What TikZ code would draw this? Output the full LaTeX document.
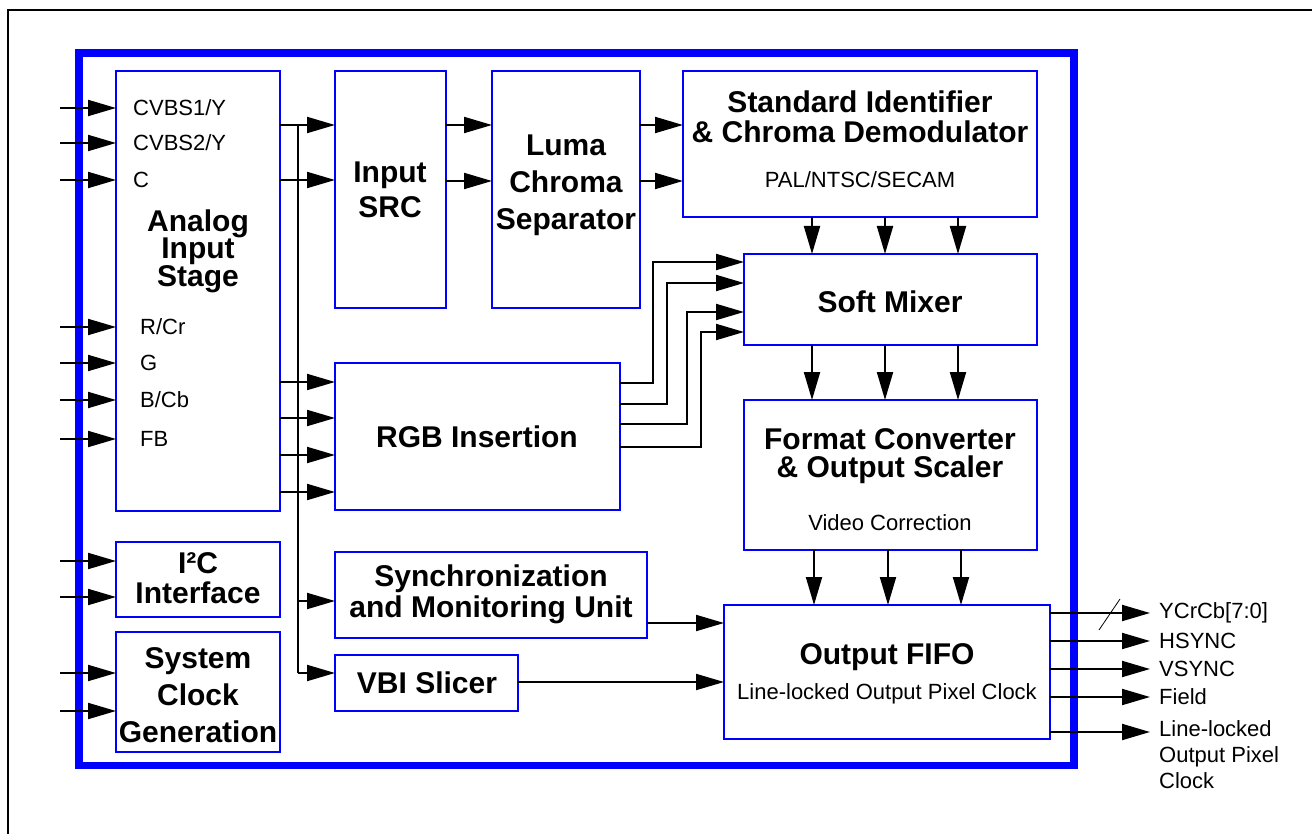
\documentclass[tikz,border=0pt]{standalone}
\usepackage{fontspec}
\setmainfont{Liberation Sans}
\usetikzlibrary{arrows.meta}

\begin{document}
\begin{tikzpicture}[x=1pt,y=-1pt,
    blk/.style={draw=blue, line width=2.3pt, anchor=north west, inner sep=0pt, outer sep=0pt},
    sig/.style={line width=2pt, -{Triangle[length=28pt,width=16pt]}},
    ttl/.style={font=\bfseries\fontsize{30}{#1}\selectfont, align=center, inner sep=0pt},
    ttl/.default=30,
    lbl/.style={font=\fontsize{22}{26}\selectfont, inner sep=0pt}]
        % Page
        \useasboundingbox (0,0) rectangle (1312,834);
        \clip (0,0) rectangle (1312,834);
        \draw[line width=2.5pt] (8,10) rectangle (1340,860);
        \draw[blue, line width=7.5pt] (79,53) rectangle (1074,765.5);

        % Blocks
        \node[blk, minimum width=164, minimum height=440] (analog) at (116,71) {};
        \node[blk, minimum width=111, minimum height=237] (src) at (335,71) {};
        \node[blk, minimum width=148, minimum height=237] (luma) at (492,71) {};
        \node[blk, minimum width=354, minimum height=146] (std) at (683,71) {};
        \node[blk, minimum width=293, minimum height=91] (soft) at (744,254) {};
        \node[blk, minimum width=285, minimum height=147] (rgb) at (335,363) {};
        \node[blk, minimum width=293, minimum height=150] (fmt) at (744,400) {};
        \node[blk, minimum width=164, minimum height=75] (iic) at (116,542) {};
        \node[blk, minimum width=312, minimum height=86] (sync) at (335,552) {};
        \node[blk, minimum width=326, minimum height=134] (fifo) at (724,605) {};
        \node[blk, minimum width=183, minimum height=56] (vbi) at (335,655) {};
        \node[blk, minimum width=164, minimum height=120] (clk) at (116,632) {};

        % Labels
        \node[ttl=27] (analogT) at (198,251) {Analog\\Input\\Stage};
        \node[ttl=35] (srcT) at (390,190) {Input\\SRC};
        \node[ttl=37] (lumaT) at (566,185) {Luma\\Chroma\\Separator};
        \node[ttl] (stdT) at (860,117) {Standard Identifier\\\& Chroma Demodulator};
        \node[lbl] (stdS) at (860,180) {PAL/NTSC/SECAM};
        \node[ttl] (softT) at (890,302) {Soft Mixer};
        \node[ttl] (rgbT) at (477,437) {RGB Insertion};
        \node[ttl=28] (fmtT) at (890,456) {Format Converter\\\& Output Scaler};
        \node[lbl] (fmtS) at (890,523) {Video Correction};
        \node[ttl=30] (iicT) at (198,578) {I²C\\Interface};
        \node[ttl=31] (syncT) at (491,594) {Synchronization\\and Monitoring Unit};
        \node[ttl] (vbiT) at (427,683) {VBI Slicer};
        \node[ttl=37] (clkT) at (198,695) {System\\Clock\\Generation};
        \node[ttl] (fifoT) at (887,657) {Output FIFO};
        \node[lbl] (fifoS) at (887,694) {Line-locked Output Pixel Clock};

        \node[lbl, anchor=west] (cvbsA) at (133,108) {CVBS1/Y};
        \node[lbl, anchor=west] (cvbsB) at (133,143) {CVBS2/Y};
        \node[lbl, anchor=west] (chroma) at (133,180) {C};
        \node[lbl, anchor=west] (rcr) at (140,327) {R/Cr};
        \node[lbl, anchor=west] (green) at (140,363) {G};
        \node[lbl, anchor=west] (bcb) at (140,400) {B/Cb};
        \node[lbl, anchor=west] (fb) at (140,439) {FB};

        % Inputs
        \foreach \y in {108,143,180,327,363,400,439} {
            \coordinate (in\y) at (60,\y);
            \draw[sig] (in\y) -- (analog.west |- in\y);
        }
        \foreach \y in {561,597} {
            \coordinate (in\y) at (60,\y);
            \draw[sig] (in\y) -- (iic.west |- in\y);
        }
        \foreach \y in {673,711} {
            \coordinate (in\y) at (60,\y);
            \draw[sig] (in\y) -- (clk.west |- in\y);
        }

        % Bus from the analog stage
        \coordinate (busT) at (298,125);
        \coordinate (busB) at (298,673);
        \draw[line width=2pt] (busT) -- (busB);
        \foreach \y in {125,180}
            \draw[sig] (analog.east |- 0,\y) -- (src.west |- 0,\y);
        \foreach \y in {382,418,455,492}
            \draw[sig] (analog.east |- 0,\y) -- (rgb.west |- 0,\y);
        \draw[sig] (busT |- 0,601) -- (sync.west |- 0,601);
        \draw[sig] (busB) -- (vbi.west |- busB);

        % Video path
        \foreach \y in {125,181} {
            \draw[sig] (src.east |- 0,\y) -- (luma.west |- 0,\y);
            \draw[sig] (luma.east |- 0,\y) -- (std.west |- 0,\y);
        }
        \foreach \x in {812,885,958} {
            \draw[sig] (std.south -| \x,0) -- (soft.north -| \x,0);
            \draw[sig] (soft.south -| \x,0) -- (fmt.north -| \x,0);
        }
        \foreach \x in {814,888,961}
            \draw[sig] (fmt.south -| \x,0) -- (fifo.north -| \x,0);
        \foreach \a/\x/\b in {383/653/262, 404/667/283, 424/687/312, 447/701/332}
            \draw[sig] (rgb.east |- 0,\a) -| (\x,\b) -- (soft.west |- 0,\b);
        \draw[sig] (sync.east |- 0,623) -- (fifo.west |- 0,623);
        \draw[sig] (vbi.east |- 0,682) -- (fifo.west |- 0,682);

        % Outputs
        \foreach \y/\t in {613/{YCrCb[7:0]}, 641/HSYNC, 669/VSYNC, 697/Field} {
            \coordinate (out\y) at (1150,\y);
            \draw[sig] (fifo.east |- out\y) -- (out\y);
            \node[lbl, anchor=west] (outT\y) at (1159,\y) {\t};
        }
        \coordinate (out732) at (1150,732);
        \draw[sig] (fifo.east |- out732) -- (out732);
        \node[lbl, anchor=north west, align=left] (clkOut) at (1159,720) {Line-locked\\Output Pixel\\Clock};
        \draw[line width=0.8pt] (1099,630) -- (1120,599);
    \end{tikzpicture}
\end{document}
